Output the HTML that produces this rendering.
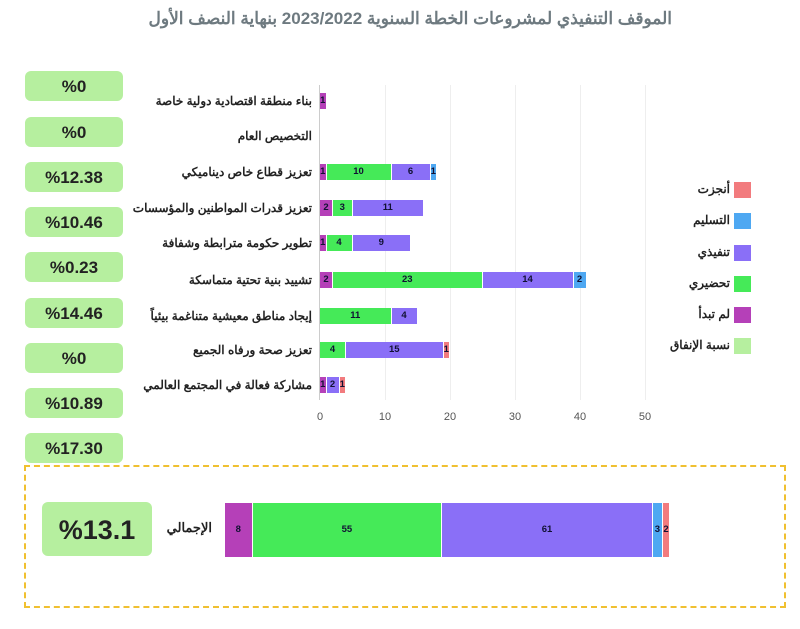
<!DOCTYPE html>
<html><head><meta charset="utf-8"><style>
body{margin:0;width:800px;height:629px;background:#fff;position:relative;overflow:hidden;font-family:"Liberation Sans","Noto Sans CJK SC",sans-serif}
.a{position:absolute}
.pill{position:absolute;left:25px;width:98px;height:30px;background:#b6ef9f;border-radius:6px;text-align:center;line-height:32px;font-weight:bold;font-size:17px;color:#222}
.lab{position:absolute;right:488px;font-size:12px;font-weight:bold;color:#222;direction:rtl;white-space:nowrap;line-height:16px}
.seg{position:absolute;height:16px;font-size:9.5px;font-weight:bold;text-align:center;line-height:16px;color:#113;box-sizing:border-box;border-right:1.5px solid #fff;overflow:hidden}
.p{background:#b540b8}.g{background:#45ea58}.v{background:#8a6ff7}.b{background:#4ea8f2}.r{background:#f27b7e}
.grid{position:absolute;top:85px;height:315px;width:1px;background:#eee}
.tick{position:absolute;top:411px;font-size:11px;color:#555;width:30px;margin-left:-15px;text-align:center}
.lg{position:absolute;left:734px;width:17px;height:16px}
.lt{position:absolute;right:70px;font-size:12px;font-weight:bold;color:#222;direction:rtl;white-space:nowrap}
</style></head><body>
<div class="a" style="right:128px;top:9px;font-size:17px;font-weight:bold;color:#6e7a80;direction:rtl;white-space:nowrap">الموقف التنفيذي لمشروعات الخطة السنوية 2023/2022 بنهاية النصف الأول</div>

<div class="pill" style="top:71px">%0</div>
<div class="pill" style="top:117px">%0</div>
<div class="pill" style="top:162px">%12.38</div>
<div class="pill" style="top:207px">%10.46</div>
<div class="pill" style="top:252px">%0.23</div>
<div class="pill" style="top:298px">%14.46</div>
<div class="pill" style="top:343px">%0</div>
<div class="pill" style="top:388px">%10.89</div>
<div class="pill" style="top:433px">%17.30</div>

<div class="grid" style="left:385px"></div><div class="grid" style="left:450px"></div><div class="grid" style="left:515px"></div><div class="grid" style="left:580px"></div><div class="grid" style="left:645px"></div>
<div class="a" style="left:319px;top:85px;width:1px;height:315px;background:#ccc"></div>
<div class="tick" style="left:320px">0</div><div class="tick" style="left:385px">10</div><div class="tick" style="left:450px">20</div><div class="tick" style="left:515px">30</div><div class="tick" style="left:580px">40</div><div class="tick" style="left:645px">50</div>

<div class="lab" style="top:93px">بناء منطقة اقتصادية دولية خاصة</div>
<div class="lab" style="top:128px">التخصيص العام</div>
<div class="lab" style="top:164px">تعزيز قطاع خاص ديناميكي</div>
<div class="lab" style="top:200px">تعزيز قدرات المواطنين والمؤسسات</div>
<div class="lab" style="top:235px">تطوير حكومة مترابطة وشفافة</div>
<div class="lab" style="top:272px">تشييد بنية تحتية متماسكة</div>
<div class="lab" style="top:308px">إيجاد مناطق معيشية متناغمة بيئياً</div>
<div class="lab" style="top:342px">تعزيز صحة ورفاه الجميع</div>
<div class="lab" style="top:377px">مشاركة فعالة في المجتمع العالمي</div>

<div class="seg p" style="left:320px;top:93px;width:6.5px">1</div>

<div class="seg p" style="left:320px;top:164px;width:6.5px">1</div>
<div class="seg g" style="left:326.5px;top:164px;width:65px">10</div>
<div class="seg v" style="left:391.5px;top:164px;width:39px">6</div>
<div class="seg b" style="left:430.5px;top:164px;width:6.5px">1</div>

<div class="seg p" style="left:320px;top:200px;width:13px">2</div>
<div class="seg g" style="left:333px;top:200px;width:19.5px">3</div>
<div class="seg v" style="left:352.5px;top:200px;width:71.5px">11</div>

<div class="seg p" style="left:320px;top:235px;width:6.5px">1</div>
<div class="seg g" style="left:326.5px;top:235px;width:26px">4</div>
<div class="seg v" style="left:352.5px;top:235px;width:58.5px">9</div>

<div class="seg p" style="left:320px;top:272px;width:13px">2</div>
<div class="seg g" style="left:333px;top:272px;width:149.5px">23</div>
<div class="seg v" style="left:482.5px;top:272px;width:91px">14</div>
<div class="seg b" style="left:573.5px;top:272px;width:13px">2</div>

<div class="seg g" style="left:320px;top:308px;width:71.5px">11</div>
<div class="seg v" style="left:391.5px;top:308px;width:26px">4</div>

<div class="seg g" style="left:320px;top:342px;width:26px">4</div>
<div class="seg v" style="left:346px;top:342px;width:97.5px">15</div>
<div class="seg r" style="left:443.5px;top:342px;width:6.5px">1</div>

<div class="seg p" style="left:320px;top:377px;width:6.5px">1</div>
<div class="seg v" style="left:326.5px;top:377px;width:13px">2</div>
<div class="seg r" style="left:339.5px;top:377px;width:6.5px">1</div>

<div class="lg r" style="top:182px"></div><div class="lt" style="top:182px">أنجزت</div>
<div class="lg b" style="top:213px"></div><div class="lt" style="top:213px">التسليم</div>
<div class="lg v" style="top:245px"></div><div class="lt" style="top:245px">تنفيذي</div>
<div class="lg g" style="top:276px"></div><div class="lt" style="top:276px">تحضيري</div>
<div class="lg p" style="top:307px"></div><div class="lt" style="top:307px">لم تبدأ</div>
<div class="lg" style="top:338px;background:#b6ef9f"></div><div class="lt" style="top:338px">نسبة الإنفاق</div>

<div class="a" style="left:24px;top:465px;width:762px;height:143px;border:2px dashed #f0c030;box-sizing:border-box"></div>
<div class="a" style="left:42px;top:502px;width:110px;height:54px;background:#b6ef9f;border-radius:6px;text-align:center;line-height:56px;font-size:27px;font-weight:bold;color:#222">%13.1</div>
<div class="a" style="right:588px;top:520px;font-size:13px;font-weight:bold;color:#222;direction:rtl">الإجمالي</div>
<div class="seg p" style="left:225px;top:503px;height:54px;line-height:54px;width:27.6px">8</div>
<div class="seg g" style="left:252.6px;top:503px;height:54px;line-height:54px;width:189.7px">55</div>
<div class="seg v" style="left:442.3px;top:503px;height:54px;line-height:54px;width:210.4px">61</div>
<div class="seg b" style="left:652.7px;top:503px;height:54px;line-height:54px;width:10.4px">3</div>
<div class="seg r" style="left:663.1px;top:503px;height:54px;line-height:54px;width:6.9px">2</div>
</body></html>
